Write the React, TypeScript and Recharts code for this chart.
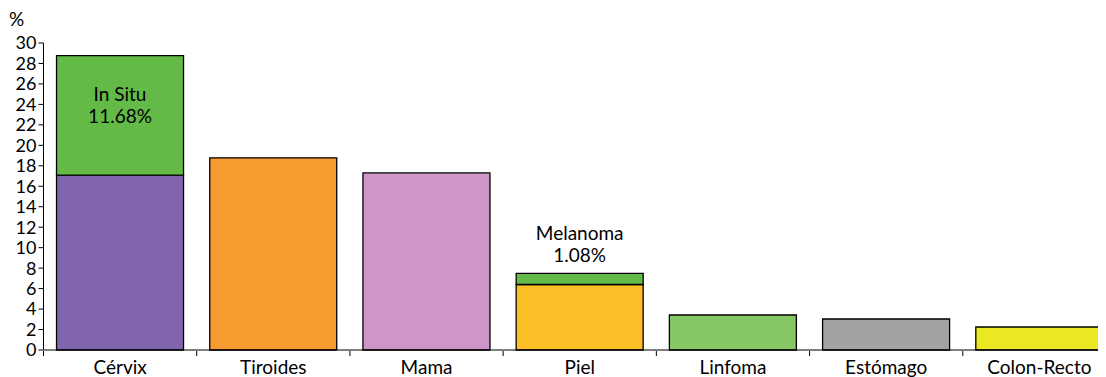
import React from 'react';
import { BarChart, Bar, XAxis, YAxis, Cell, LabelList } from 'recharts';

const categories = ['Cérvix', 'Tiroides', 'Mama', 'Piel', 'Linfoma', 'Estómago', 'Colon-Recto'];
const baseValues = [17.08, 18.78, 17.3, 6.4, 3.42, 3.03, 2.25];
const subValues = [11.68, 0, 0, 1.08, 0, 0, 0];
const subNames = ['In Situ', '', '', 'Melanoma', '', '', ''];
const subLabels = ['11.68%', '', '', '1.08%', '', '', ''];
const baseColors = ['#8064ad', '#f79a2f', '#ce96c6', '#fdbf27', '#86c865', '#a3a3a3', '#eae823'];
const subColor = '#63ba47';
const yTicks = [0, 2, 4, 6, 8, 10, 12, 14, 16, 18, 20, 22, 24, 26, 28, 30];

const data = categories.map((name, i) => ({
  name,
  base: baseValues[i],
  sub: subValues[i],
  subName: subNames[i],
  subLabel: subLabels[i],
}));

const FONT = 'Lato, sans-serif';
const FS = 19;

const CategoryTick = (props: any) => {
  const { x, y, payload } = props;
  const half = payload.offset || 0;
  return (
    <g>
      <line x1={x - half} y1={y - 7} x2={x - half} y2={y - 2} stroke="#000" strokeWidth={1} />
      <text x={x} y={y} dy={16} textAnchor="middle" fill="#000" fontSize={FS} fontFamily={FONT}>
        {payload.value}
      </text>
    </g>
  );
};

const SubLabel = (props: any) => {
  const { x, y, width, value } = props;
  if (!value) return null;
  const i = subNames.indexOf(value);
  if (i < 0) return null;
  const cx = Number(x) + Number(width) / 2;
  // tall segment: label inside, short segment: label above
  const inside = subValues[i] > 5;
  const y1 = inside ? Number(y) + 45 : Number(y) - 33;
  return (
    <g fontFamily={FONT} fontSize={FS} fill="#000" textAnchor="middle">
      <text x={cx} y={y1}>{subNames[i]}</text>
      <text x={cx} y={y1 + 22}>{subLabels[i]}</text>
    </g>
  );
};

export default function App() {
  return (
    <div style={{ position: 'relative', width: 1098, height: 369, overflow: 'hidden' }}>
      <span
        style={{ position: 'absolute', left: 1, top: 1, lineHeight: 1, fontFamily: FONT, fontSize: FS, color: '#000' }}
      >
        %
      </span>
      <BarChart
        width={1108}
        height={369}
        data={data}
        margin={{ top: 35, right: 0, bottom: 0, left: 0 }}
        barCategoryGap="8.5%"
      >
        <XAxis
          dataKey="name"
          height={27}
          interval={0}
          axisLine={{ stroke: '#000' }}
          tickLine={false}
          tick={<CategoryTick />}
        />
        <YAxis
          width={35.5}
          domain={[0, 30]}
          ticks={yTicks}
          interval={0}
          axisLine={{ stroke: '#000' }}
          tickLine={{ stroke: '#000' }}
          tickSize={5}
          tick={{ fill: '#000', fontSize: 18, fontFamily: FONT }}
        />
        <Bar dataKey="base" stackId="a" stroke="#000" strokeWidth={1.3} isAnimationActive={false}>
          {data.map((d, i) => (
            <Cell key={d.name} fill={baseColors[i]} />
          ))}
        </Bar>
        <Bar dataKey="sub" stackId="a" fill={subColor} stroke="#000" strokeWidth={1.3} isAnimationActive={false}>
          <LabelList dataKey="subName" content={<SubLabel />} />
        </Bar>
      </BarChart>
    </div>
  );
}
